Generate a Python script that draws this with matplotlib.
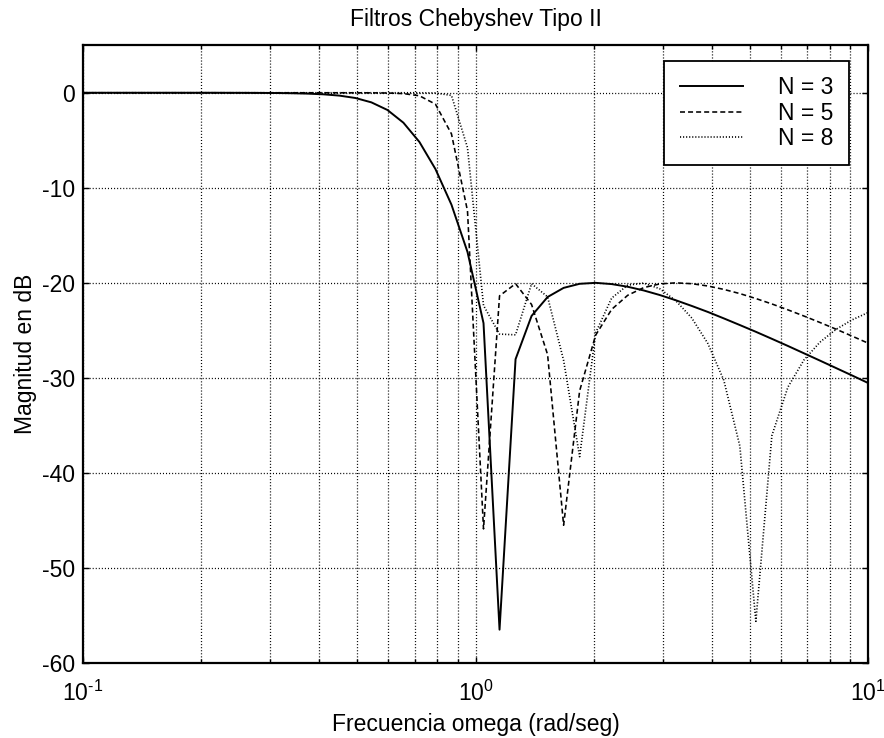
import matplotlib
matplotlib.use("Agg")
import matplotlib.pyplot as plt
from matplotlib.ticker import FixedLocator, FixedFormatter, LogLocator, NullFormatter

# Frequency samples (rad/seg), 50 points log-spaced between 0.1 and 10
freq = [0.1000, 0.1099, 0.1207, 0.1326, 0.1456, 0.1600, 0.1758, 0.1931, 0.2121, 0.2330,
        0.2560, 0.2812, 0.3089, 0.3393, 0.3728, 0.4095, 0.4498, 0.4942, 0.5429, 0.5964,
        0.6551, 0.7197, 0.7906, 0.8685, 0.9541, 1.0481, 1.1514, 1.2649, 1.3895, 1.5264,
        1.6768, 1.8421, 2.0236, 2.2230, 2.4421, 2.6827, 2.9471, 3.2375, 3.5565, 3.9069,
        4.2919, 4.7149, 5.1795, 5.6899, 6.2506, 6.8665, 7.5431, 8.2864, 9.1030, 10.000]

# Magnitude (dB) for each filter order
mag_n3 = [0.0, 0.0, 0.0, 0.0, 0.0, 0.0, 0.0, 0.0, 0.0, -0.005,
          -0.008, -0.015, -0.027, -0.049, -0.089, -0.163, -0.299, -0.55, -1.01, -1.81,
          -3.15, -5.18, -8.03, -11.78, -16.75, -24.24, -56.49, -28.03, -23.48, -21.49,
          -20.53, -20.10, -20.00, -20.13, -20.41, -20.80, -21.28, -21.83, -22.43, -23.06,
          -23.74, -24.44, -25.15, -25.89, -26.64, -27.41, -28.18, -28.96, -29.74, -30.53]

mag_n5 = [0.0, 0.0, 0.0, 0.0, 0.0, 0.0, 0.0, 0.0, 0.0, 0.0,
          0.0, 0.0, 0.0, 0.0, 0.0, 0.0, -0.001, -0.003, -0.009, -0.027,
          -0.089, -0.317, -1.20, -4.33, -12.43, -45.89, -21.37, -20.09, -22.28, -27.55,
          -45.50, -31.36, -25.50, -22.79, -21.31, -20.50, -20.11, -20.00, -20.09, -20.33,
          -20.69, -21.13, -21.65, -22.22, -22.84, -23.49, -24.17, -24.87, -25.60, -26.34]

mag_n8 = [0.0, 0.0, 0.0, 0.0, 0.0, 0.0, 0.0, 0.0, 0.0, 0.0,
          0.0, 0.0, 0.0, 0.0, 0.0, 0.0, 0.0, 0.0, 0.0, 0.0,
          0.0, -0.002, -0.019, -0.28, -5.78, -22.38, -25.39, -25.47, -20.09, -21.47,
          -28.16, -38.29, -25.26, -21.60, -20.24, -20.03, -20.62, -21.87, -23.70, -26.37,
          -30.25, -37.17, -55.61, -36.07, -30.97, -28.12, -26.24, -24.90, -23.90, -23.13]

series_labels = ["N = 3", "N = 5", "N = 8"]
y_ticks = [0, -10, -20, -30, -40, -50, -60]
x_ticks = [0.1, 1.0, 10.0]
x_tick_labels = [r"$10^{\text{-1}}$", r"$10^{\text{0}}$", r"$10^{\text{1}}$"]

plt.rcParams.update({
    "font.family": ["Liberation Sans", "DejaVu Sans"],
    "mathtext.fontset": "custom",
    "mathtext.rm": "Liberation Sans",
    "mathtext.it": "Liberation Sans:italic",
    "mathtext.bf": "Liberation Sans:bold",
    "axes.unicode_minus": False,
    "lines.scale_dashes": False,
})

fig = plt.figure(figsize=(8.84, 7.38), dpi=100)
ax = fig.add_axes([0.0939, 0.1016, 0.888, 0.8371])

ax.semilogx(freq, mag_n3, color="k", lw=1.4, linestyle="-", label=series_labels[0])
ax.semilogx(freq, mag_n5, color="k", lw=1.15, linestyle=(0, (3.6, 2.2)), label=series_labels[1])
ax.semilogx(freq, mag_n8, color="k", lw=1.2, linestyle=(0, (0.8, 1.4)), label=series_labels[2])

ax.set_xlim(0.1, 10)
ax.set_ylim(-60, 5)
ax.set_yticks(y_ticks)
ax.xaxis.set_major_locator(FixedLocator(x_ticks))
ax.xaxis.set_major_formatter(FixedFormatter(x_tick_labels))
ax.xaxis.set_minor_locator(LogLocator(base=10, subs=range(2, 10), numticks=30))
ax.xaxis.set_minor_formatter(NullFormatter())

grid_style = dict(color="k", lw=0.9, linestyle=(0, (0.75, 1.45)))
ax.grid(True, which="both", axis="x", **grid_style)
ax.grid(True, which="major", axis="y", **grid_style)

for sp in ax.spines.values():
    sp.set_linewidth(1.6)
    sp.set_color("k")

ax.tick_params(which="both", direction="in", top=True, right=True,
               labelsize=16.5, width=1.0, colors="k")
ax.tick_params(which="major", length=4.5)
ax.tick_params(which="minor", length=3)
ax.tick_params(axis="x", which="major", pad=13)
ax.tick_params(axis="y", which="major", pad=6)

ax.set_title("Filtros Chebyshev Tipo II", fontsize=16.5, pad=14)
ax.set_xlabel("Frecuencia omega (rad/seg)", fontsize=16.5, labelpad=5)
ax.set_ylabel("Magnitud en dB", fontsize=16.5, labelpad=3)

leg = ax.legend(loc="upper right", bbox_to_anchor=(0.976, 0.975), borderaxespad=0,
                fontsize=16.5, handlelength=2.75, handletextpad=1.55,
                labelspacing=0.1, borderpad=0.68, fancybox=False,
                framealpha=1, edgecolor="k")
leg.get_frame().set_linewidth(1.3)

fig.savefig("out.png", dpi=100)
